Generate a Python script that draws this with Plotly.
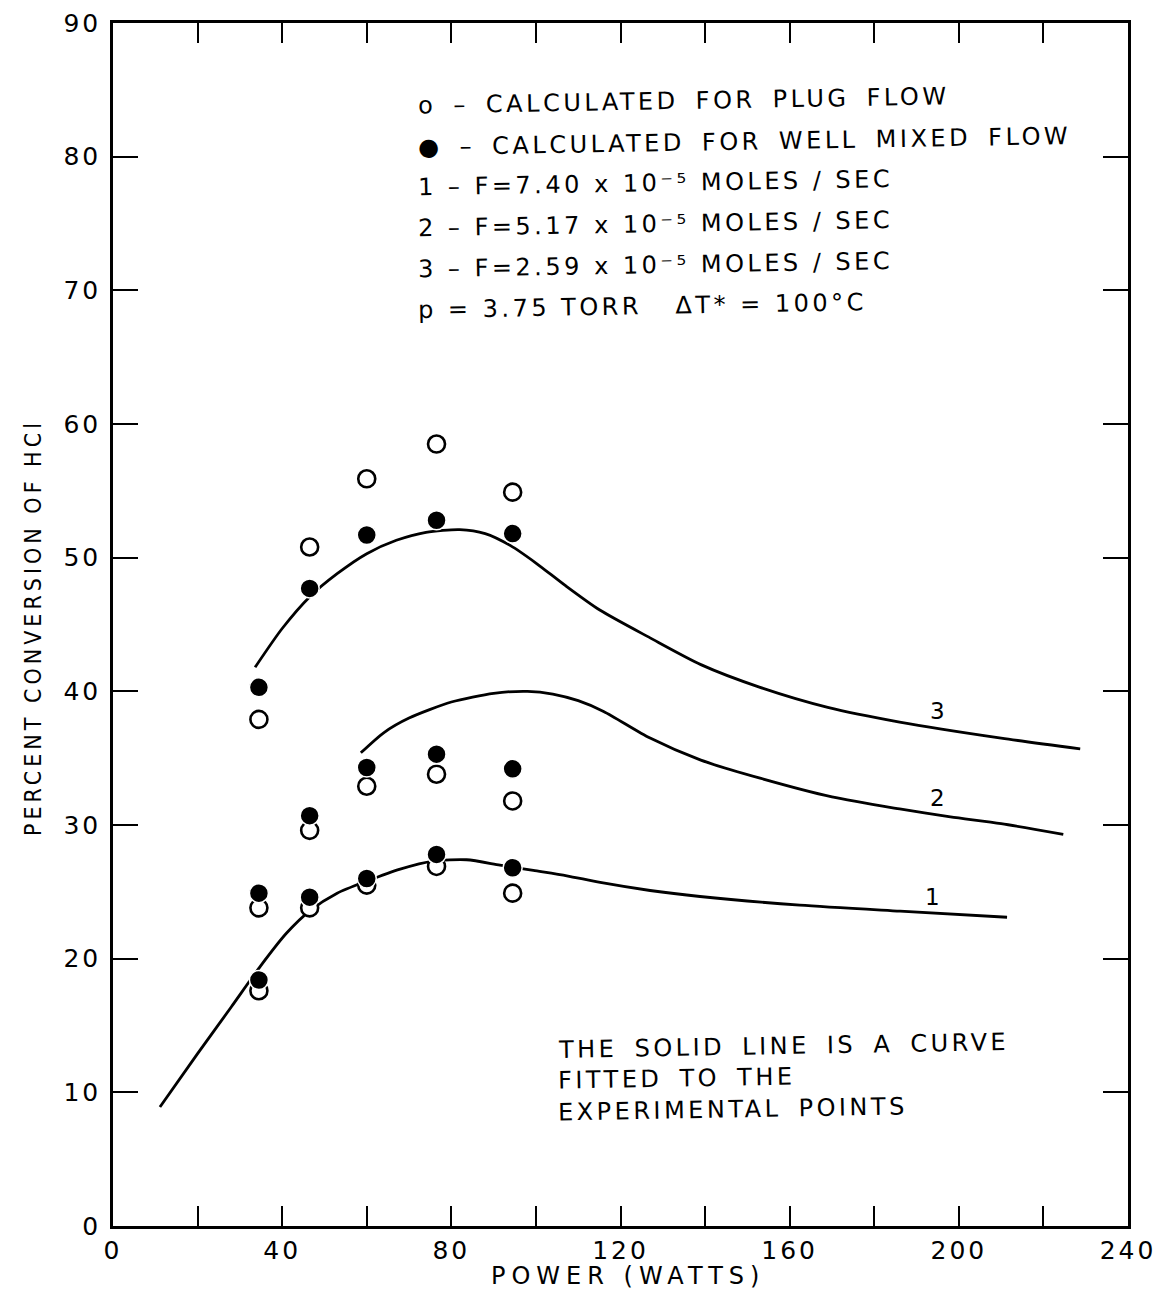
import plotly.graph_objects as go

# Discharge power (W) at which the conversions were evaluated
power = [34.5, 46.5, 60, 76.5, 94.5]

# Percent conversion calculated for plug flow (open circles), flows 1-3
plug_f1 = [17.6, 23.8, 25.5, 26.9, 24.9]
plug_f2 = [23.8, 29.6, 32.9, 33.8, 31.8]
plug_f3 = [37.9, 50.8, 55.9, 58.5, 54.9]

# Percent conversion calculated for well mixed flow (filled circles), flows 1-3
mixed_f1 = [18.4, 24.6, 26.0, 27.8, 26.8]
mixed_f2 = [24.9, 30.7, 34.3, 35.3, 34.2]
mixed_f3 = [40.3, 47.7, 51.7, 52.8, 51.8]

# Curves fitted to the experimental points
fit1_x = [11.1, 20.0, 28.0, 35.0, 41.0, 46.6, 53.0, 60.0, 67.9, 75.7, 83.6,
          91.5, 99.4, 107.3, 115.2, 127.0, 138.8, 162.4, 186.1, 211.4]
fit1_y = [8.9, 12.9, 16.4, 19.5, 21.9, 23.6, 24.9, 25.8, 26.7, 27.3, 27.4,
          27.0, 26.6, 26.2, 25.7, 25.1, 24.65, 24.0, 23.55, 23.1]

fit2_x = [58.6, 64.0, 70.0, 80.0, 90.0, 98.0, 104.0, 110.0, 116.0, 127.0,
          139.0, 153.0, 170.0, 186.0, 198.0, 210.0, 224.7]
fit2_y = [35.4, 36.9, 38.0, 39.2, 39.85, 40.0, 39.8, 39.3, 38.5, 36.5,
          34.85, 33.5, 32.1, 31.2, 30.6, 30.1, 29.3]

fit3_x = [33.6, 40.0, 46.6, 53.0, 60.0, 67.0, 74.0, 82.0, 88.0, 94.0, 100.0,
          107.0, 115.0, 127.0, 139.0, 153.0, 169.0, 186.0, 210.0, 228.7]
fit3_y = [41.8, 44.7, 47.1, 48.8, 50.3, 51.3, 51.9, 52.1, 51.8, 50.9, 49.6,
          47.9, 46.1, 44.0, 42.0, 40.3, 38.8, 37.7, 36.5, 35.7]

curve_labels = ["1", "2", "3"]
curve_label_x = [193.7, 194.9, 194.9]
curve_label_y = [24.6, 32.0, 38.55]

x_major = list(range(0, 241, 40))
y_ticks = list(range(0, 91, 10))

FONT = "DejaVu Sans, Verdana, sans-serif"
INK = "black"

fig = go.Figure()

for fx, fy in [(fit1_x, fit1_y), (fit2_x, fit2_y), (fit3_x, fit3_y)]:
    fig.add_trace(go.Scatter(
        x=fx, y=fy, mode="lines",
        line=dict(color=INK, width=2.8, shape="spline", smoothing=0.7),
        hoverinfo="skip"))

for series in [plug_f1, plug_f2, plug_f3]:
    fig.add_trace(go.Scatter(
        x=power, y=series, mode="markers",
        marker=dict(symbol="circle", size=17, color="white",
                    line=dict(color=INK, width=2.6))))

for series in [mixed_f1, mixed_f2, mixed_f3]:
    fig.add_trace(go.Scatter(
        x=power, y=series, mode="markers",
        marker=dict(symbol="circle", size=19, color=INK,
                    line=dict(color="white", width=1.5))))

for label, lx, ly in zip(curve_labels, curve_label_x, curve_label_y):
    fig.add_annotation(x=lx, y=ly, text=label, showarrow=False,
                       font=dict(family=FONT, size=23, color=INK),
                       xanchor="center", yanchor="middle")


# plot area in pixels: left 113, right 1128, top 23, bottom 1226
def px(xpix):
    return (xpix - 113) / 1015.0


def py(ypix):
    return (1226 - ypix) / 1203.0


legend_lines = [
    ("o \u2013 CALCULATED FOR PLUG FLOW", 102),
    ("\u25CF \u2013 CALCULATED FOR WELL MIXED FLOW", 143),
    ("1 \u2013 F=7.40 x 10\u207B\u2075 MOLES / SEC", 184),
    ("2 \u2013 F=5.17 x 10\u207B\u2075 MOLES / SEC", 225),
    ("3 \u2013 F=2.59 x 10\u207B\u2075 MOLES / SEC", 266),
    ("p = 3.75 TORR &nbsp; \u0394T* = 100\u00B0C", 307),
]
for text, ypix in legend_lines:
    fig.add_annotation(xref="paper", yref="paper", x=px(416), y=py(ypix),
                       text=text, showarrow=False, textangle=-1,
                       xanchor="left", yanchor="middle", align="left",
                       font=dict(family=FONT, size=24, color=INK))

note_lines = [
    ("THE SOLID LINE IS A CURVE", 1047),
    ("FITTED TO THE", 1079),
    ("EXPERIMENTAL POINTS", 1110),
]
for text, ypix in note_lines:
    fig.add_annotation(xref="paper", yref="paper", x=px(556), y=py(ypix),
                       text=text, showarrow=False, textangle=-1,
                       xanchor="left", yanchor="middle", align="left",
                       font=dict(family=FONT, size=24, color=INK))

# axis titles
fig.add_annotation(xref="paper", yref="paper", x=px(628), y=py(1276),
                   text="POWER (WATTS)", showarrow=False,
                   xanchor="center", yanchor="middle",
                   font=dict(family=FONT, size=24, color=INK))
fig.add_annotation(xref="paper", yref="paper", x=px(33), y=py(628),
                   text="PERCENT CONVERSION OF HCl", showarrow=False,
                   textangle=-90, xanchor="center", yanchor="middle",
                   font=dict(family="DejaVu Sans Condensed, Liberation Sans Narrow, DejaVu Sans",
                             size=23, color=INK))

axis_common = dict(
    showline=True, linecolor=INK, linewidth=2.5, mirror="ticks",
    ticks="inside", tickcolor=INK, tickwidth=2,
    showgrid=False, zeroline=False, automargin=False,
    tickfont=dict(family=FONT, size=25, color=INK),
)

fig.update_xaxes(range=[0, 240], tickmode="array", tickvals=x_major,
                 ticklen=20,
                 minor=dict(ticks="inside", dtick=20, tick0=0, ticklen=20,
                            tickwidth=2, tickcolor=INK, showgrid=False),
                 **axis_common)
fig.update_yaxes(range=[0, 90], tickmode="array", tickvals=y_ticks,
                 ticklen=25, ticklabelstandoff=4, **axis_common)

fig.update_layout(
    width=1159, height=1290,
    margin=dict(l=113, r=31, t=23, b=64),
    plot_bgcolor="white", paper_bgcolor="white",
    showlegend=False,
    font=dict(family=FONT, color=INK),
)

# widen the lettering the way stencil lettering is spaced
spacing_js = """
var gd = document.getElementById('{plot_id}');
gd.querySelectorAll('.annotation-text').forEach(function (t) {
    var s = t.textContent;
    if (s.indexOf('POWER') === 0) { t.style.letterSpacing = '6px'; }
    else if (s.indexOf('PERCENT') === 0) { t.style.letterSpacing = '4px'; }
    else if (s.length > 2) {
        t.style.letterSpacing = '3.5px';
        if (s.indexOf('CALCULATED') >= 0 || s.indexOf('THE') >= 0 ||
            s.indexOf('POINTS') >= 0) {
            t.style.wordSpacing = '6px';
        }
    }
});
gd.querySelectorAll('.xtick text, .ytick text').forEach(function (t) {
    t.style.letterSpacing = '3px';
});
"""

fig.write_html("out.html", post_script=spacing_js)
